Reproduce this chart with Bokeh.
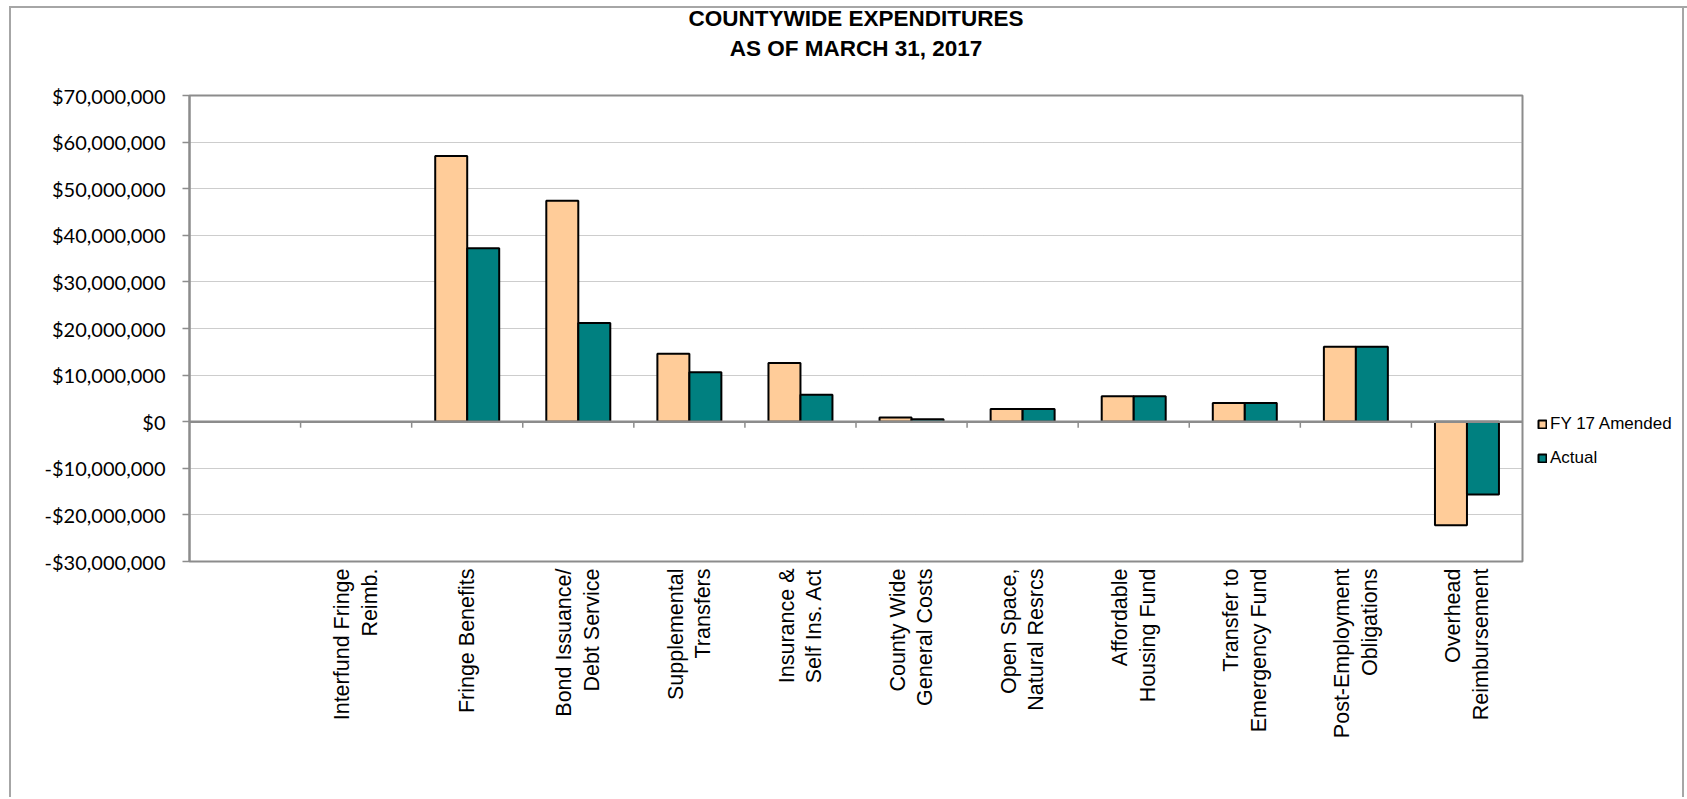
import math
from bokeh.plotting import figure
from bokeh.models import (ColumnDataSource, Range1d, FixedTicker, NumeralTickFormatter,
                          Span, Legend, LegendItem, LinearAxis)
from bokeh.embed import file_html
from bokeh.resources import INLINE

# ---- data ----
categories = ["", "Interfund Fringe\nReimb.", "Fringe Benefits", "Bond Issuance/\nDebt Service",
              "Supplemental\nTransfers", "Insurance &\nSelf Ins. Act", "County Wide\nGeneral Costs",
              "Open Space,\nNatural Resrcs", "Affordable\nHousing Fund", "Transfer to\nEmergency Fund",
              "Post-Employment\nObligations", "Overhead\nReimbursement"]
fy17_amended = [0, 0, 57.0e6, 47.4e6, 14.6e6, 12.6e6, 0.88e6, 2.7e6, 5.45e6, 4.0e6, 16.1e6, -22.2e6]
actual = [0, 0, 37.2e6, 21.2e6, 10.6e6, 5.8e6, 0.55e6, 2.7e6, 5.45e6, 4.0e6, 16.1e6, -15.6e6]
series_names = ["FY 17 Amended", "Actual"]
series_colors = ["#FFCC99", "#008080"]
y_ticks = [-30_000_000, -20_000_000, -10_000_000, 0, 10_000_000, 20_000_000,
           30_000_000, 40_000_000, 50_000_000, 60_000_000, 70_000_000]
title_lines = ["COUNTYWIDE EXPENDITURES", "AS OF MARCH 31, 2017"]

n = len(categories)
bar_w = 0.288  # fraction of a category slot per bar

FRAME_W, FRAME_H = 1333, 466
p = figure(frame_width=FRAME_W, frame_height=FRAME_H, title=None,
           x_range=Range1d(0, n), y_range=Range1d(y_ticks[0], y_ticks[-1]),
           output_backend="svg", toolbar_location=None,
           min_border_left=189, min_border_right=163, min_border_top=95, min_border_bottom=236,
           background_fill_color="white", border_fill_color="white", border_fill_alpha=0)

# two-line chart title, drawn by a label-only axis above the plot
title_x = n / 2
title_axis = LinearAxis(ticker=FixedTicker(ticks=[title_x]),
                        major_label_overrides={title_x: title_lines[1]},
                        axis_label=title_lines[0],
                        axis_line_color=None, major_tick_line_color=None,
                        minor_tick_line_color=None, major_tick_out=0, major_tick_in=0,
                        major_label_standoff=35, axis_label_standoff=2,
                        major_label_text_font="Liberation Sans",
                        major_label_text_font_size="22.5px",
                        major_label_text_font_style="bold",
                        major_label_text_color="black",
                        axis_label_text_font="Liberation Sans",
                        axis_label_text_font_size="22.5px",
                        axis_label_text_font_style="bold",
                        axis_label_text_color="black")
p.add_layout(title_axis, "above")

renderers = []
for k, (vals, col) in enumerate(zip([fy17_amended, actual], series_colors)):
    xs, tops = [], []
    for i, v in enumerate(vals):
        if v != 0:
            xs.append(i + 0.5 + (k - 0.5) * bar_w)
            tops.append(v)
    src = ColumnDataSource(dict(x=xs, top=tops))
    r = p.vbar(x="x", top="top", bottom=0, width=bar_w, source=src,
               fill_color=col, line_color="black", line_width=2)
    renderers.append(r)

# zero line with category boundary ticks
p.add_layout(Span(location=0, dimension="width", line_color="#8c8c8c", line_width=2.5))
tick_len = 6 * (y_ticks[-1] - y_ticks[0]) / FRAME_H
bounds = list(range(1, n))
p.segment(x0=bounds, y0=[0] * len(bounds), x1=bounds, y1=[-tick_len] * len(bounds),
          line_color="#8c8c8c", line_width=1.5)

# x axis: category labels
xaxis = p.below[0]
xaxis.ticker = FixedTicker(ticks=[i + 0.5 for i in range(n) if categories[i]])
xaxis.major_label_overrides = {i + 0.5: categories[i] for i in range(n) if categories[i]}
xaxis.major_label_orientation = math.pi / 2
xaxis.major_tick_line_color = None
xaxis.minor_tick_line_color = None
xaxis.axis_line_color = None
xaxis.major_label_standoff = 1
xaxis.major_label_text_font = "Liberation Sans"
xaxis.major_label_text_font_size = "21.5px"
xaxis.major_label_text_color = "black"
xaxis.major_label_text_line_height = 1.15
p.xgrid.visible = False

# y axis
p.yaxis.ticker = FixedTicker(ticks=y_ticks)
p.yaxis.formatter = NumeralTickFormatter(format="$0,0")
p.yaxis.axis_line_color = "#8c8c8c"
p.yaxis.axis_line_width = 2
p.yaxis.major_tick_line_color = "#8c8c8c"
p.yaxis.major_tick_line_width = 1.5
p.yaxis.major_tick_out = 7
p.yaxis.major_tick_in = 0
p.yaxis.minor_tick_line_color = None
p.yaxis.major_label_standoff = 17
p.yaxis.major_label_text_font = "Lato"
p.yaxis.major_label_text_font_size = "20px"
p.yaxis.major_label_text_color = "black"

p.ygrid.ticker = FixedTicker(ticks=y_ticks)
p.ygrid.grid_line_color = "#9a9a9a"
p.ygrid.grid_line_dash = "1 1"
p.ygrid.grid_line_width = 1

p.outline_line_color = "#8c8c8c"
p.outline_line_width = 2

legend = Legend(items=[LegendItem(label=series_names[0], renderers=[renderers[0]]),
                       LegendItem(label=series_names[1], renderers=[renderers[1]])],
                location=(15, 93), orientation="vertical",
                glyph_width=10, glyph_height=10, label_height=20, spacing=14,
                padding=0, margin=0, label_standoff=3,
                border_line_color=None, background_fill_alpha=0,
                label_text_font="Liberation Sans", label_text_font_size="17px",
                label_text_color="black")
p.add_layout(legend, "right")

# outer chart-area border (left, top, right) drawn as the element's background
line = "linear-gradient(#a6a6a6, #a6a6a6)"
p.styles = {"background": (f"{line} 9px 6px / 2px 100% no-repeat, "
                           f"{line} 9px 6px / 100% 2px no-repeat, "
                           f"{line} 1682px 6px / 2px 100% no-repeat, white")}

open("out.html", "w").write(file_html(p, INLINE))
